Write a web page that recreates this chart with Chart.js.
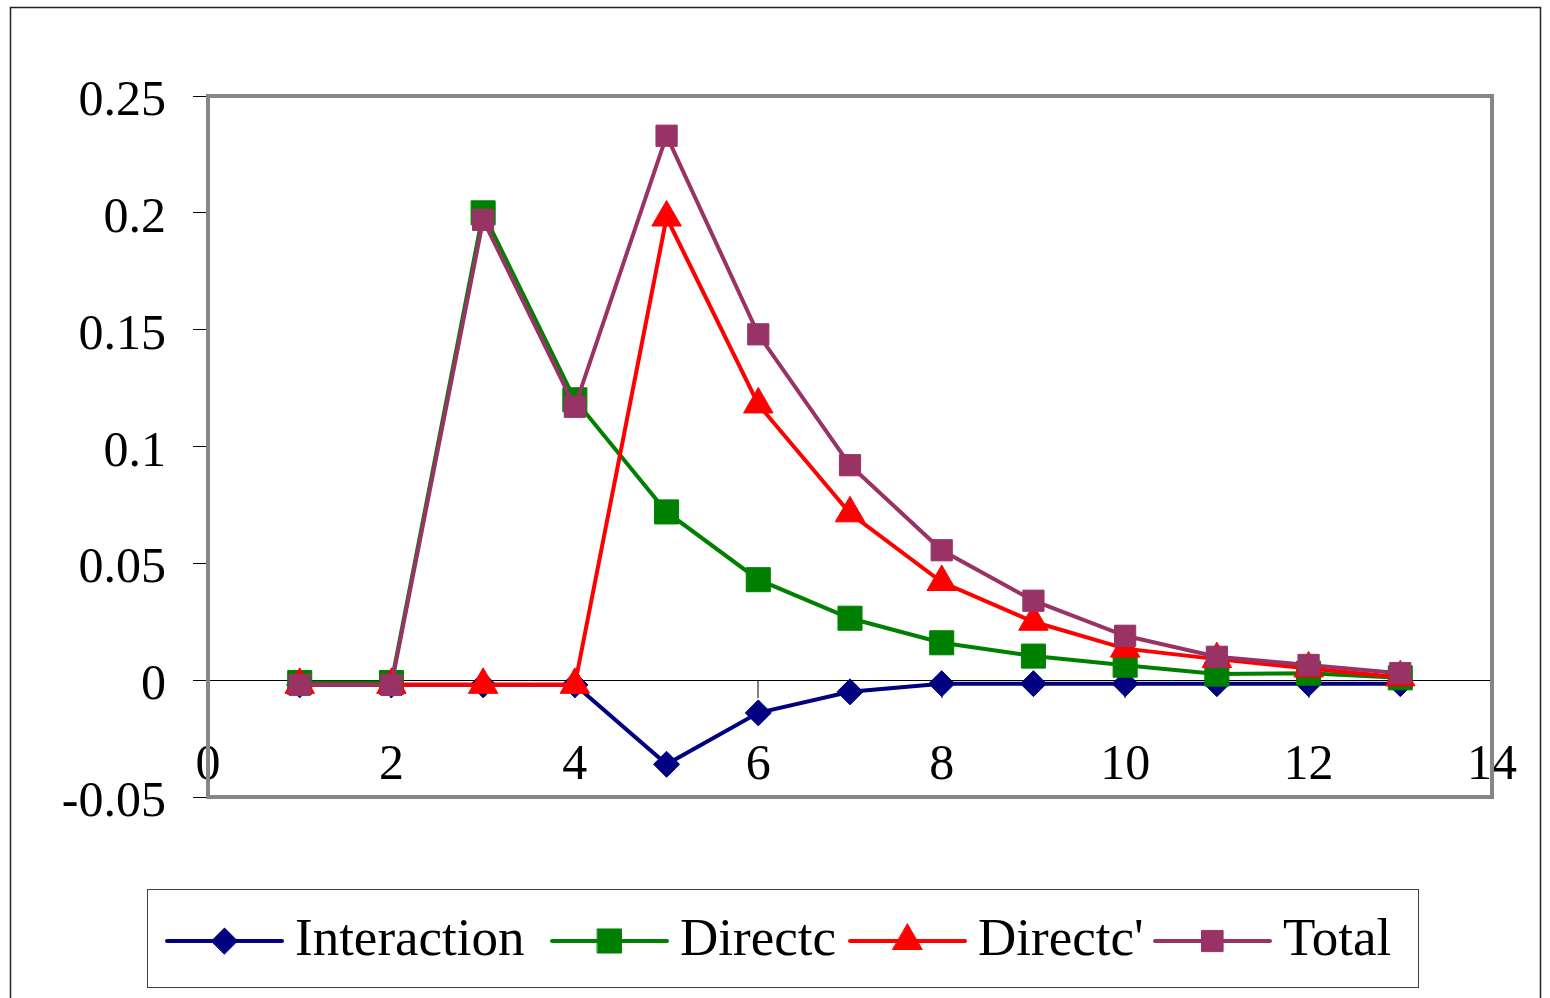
<!DOCTYPE html>
<html>
<head>
<meta charset="utf-8">
<script src="https://cdn.jsdelivr.net/npm/chart.js@4.4.1/dist/chart.umd.min.js"></script>
<style>
    body { margin: 0; background: #ffffff; }
    #wrap { width: 1550px; height: 998px; }
</style>
</head>
<body>
<div id="wrap"><canvas id="chart" width="1550" height="998"></canvas></div>
<script>
// Chart data
const xValues = [1, 2, 3, 4, 5, 6, 7, 8, 9, 10, 11, 12, 13];
const interaction = [-0.002, -0.002, -0.002, -0.002, -0.036, -0.014, -0.005, -0.0015, -0.0015, -0.0015, -0.0015, -0.0015, -0.0015];
const directc = [-0.001, -0.001, 0.2, 0.12, 0.072, 0.043, 0.0265, 0.016, 0.0103, 0.0064, 0.0026, 0.003, 0.001];
const directcPrime = [-0.002, -0.002, -0.002, -0.002, 0.198, 0.118, 0.0714, 0.042, 0.025, 0.0135, 0.009, 0.005, 0.0012];
const total = [-0.002, -0.002, 0.197, 0.117, 0.233, 0.148, 0.092, 0.0556, 0.034, 0.019, 0.010, 0.0065, 0.003];

const seriesNames = ['Interaction', 'Directc', "Directc'", 'Total'];
const yTickLabels = ['-0.05', '0', '0.05', '0.1', '0.15', '0.2', '0.25'];
const xTickLabels = ['0', '2', '4', '6', '8', '10', '12', '14'];

const FONT = '"Liberation Serif", "DejaVu Serif", serif';

function toPoints(values) {
    return values.map((v, i) => ({ x: xValues[i], y: v }));
}

function makeDataset(label, values, color, style, radius, order) {
    return {
        label: label,
        data: toPoints(values),
        showLine: true,
        borderColor: color,
        backgroundColor: color,
        borderWidth: 4,
        pointStyle: style,
        pointRadius: radius,
        pointBackgroundColor: color,
        pointBorderColor: color,
        pointBorderWidth: 1,
        order: order
    };
}

// frame, plot border and the boxed legend under the chart
const decorPlugin = {
    id: 'decor',
    beforeDraw(chart) {
        const ctx = chart.ctx;
        ctx.save();
        ctx.fillStyle = '#ffffff';
        ctx.fillRect(0, 0, chart.width, chart.height);
        ctx.strokeStyle = '#222222';
        ctx.lineWidth = 1.5;
        ctx.strokeRect(10.5, 7.5, 1530, 1100);
        ctx.restore();
    },
    beforeDatasetsDraw(chart) {
        const ctx = chart.ctx;
        const a = chart.chartArea;
        ctx.save();
        ctx.strokeStyle = '#868686';
        ctx.lineWidth = 4;
        ctx.strokeRect(a.left, a.top, a.right - a.left, a.bottom - a.top);
        ctx.restore();
    },
    afterDraw(chart) {
        const ctx = chart.ctx;
        const box = { x: 147, y: 889, w: 1271, h: 98 };
        const itemX = [167, 552, 850, 1155];
        const cy = box.y + box.h / 2 + 3;
        ctx.save();
        ctx.strokeStyle = '#404040';
        ctx.lineWidth = 1;
        ctx.strokeRect(box.x + 0.5, box.y + 0.5, box.w, box.h);

        chart.data.datasets.forEach((ds, i) => {
            const x0 = itemX[i];
            const lineLen = 115;
            ctx.strokeStyle = ds.borderColor;
            ctx.lineWidth = 4;
            ctx.lineCap = 'round';
            ctx.beginPath();
            ctx.moveTo(x0, cy);
            ctx.lineTo(x0 + lineLen, cy);
            ctx.stroke();

            ctx.fillStyle = ds.pointBackgroundColor;
            ctx.strokeStyle = ds.pointBorderColor;
            ctx.lineWidth = 1;
            Chart.helpers.drawPoint(ctx, {
                pointStyle: ds.pointStyle,
                rotation: 0,
                radius: ds.pointRadius,
                borderWidth: 1
            }, x0 + lineLen / 2, cy);

            ctx.fillStyle = '#000000';
            ctx.font = '53px ' + FONT;
            ctx.textAlign = 'left';
            ctx.textBaseline = 'middle';
            ctx.fillText(ds.label, x0 + lineLen + 13, cy);
        });
        ctx.restore();
    }
};

const ctx = document.getElementById('chart');
new Chart(ctx, {
    type: 'scatter',
    data: {
        datasets: [
            makeDataset(seriesNames[0], interaction, '#000080', 'rectRot', 13, 4),
            makeDataset(seriesNames[1], directc, '#008000', 'rect', 17, 3),
            makeDataset(seriesNames[2], directcPrime, '#ff0000', 'triangle', 17, 2),
            makeDataset(seriesNames[3], total, '#993366', 'rect', 15, 1)
        ]
    },
    options: {
        responsive: false,
        animation: false,
        layout: {
            padding: { top: 96, right: 58, bottom: 201, left: 0 }
        },
        plugins: {
            legend: { display: false },
            tooltip: { enabled: false }
        },
        scales: {
            x: {
                type: 'linear',
                position: { y: 0 },
                min: 0,
                max: 14,
                afterFit: (s) => { s.paddingLeft = 0; s.paddingRight = 0; },
                border: { display: true, color: '#000000', width: 1 },
                grid: {
                    drawOnChartArea: false,
                    drawTicks: true,
                    tickLength: 17,
                    color: '#808080',
                    lineWidth: 2
                },
                ticks: {
                    stepSize: 2,
                    padding: 39,
                    color: '#000000',
                    font: { family: FONT, size: 50 },
                    callback: (v, i) => xTickLabels[i]
                }
            },
            y: {
                min: -0.05,
                max: 0.25,
                afterFit: (s) => { s.width = 208; },
                border: { display: false },
                grid: {
                    drawOnChartArea: false,
                    drawTicks: true,
                    tickLength: 15,
                    color: '#000000',
                    lineWidth: 1
                },
                ticks: {
                    stepSize: 0.05,
                    padding: 27,
                    labelOffset: 6,
                    color: '#000000',
                    font: { family: FONT, size: 50 },
                    callback: (v, i) => yTickLabels[i]
                }
            }
        }
    },
    plugins: [decorPlugin]
});
</script>
</body>
</html>
